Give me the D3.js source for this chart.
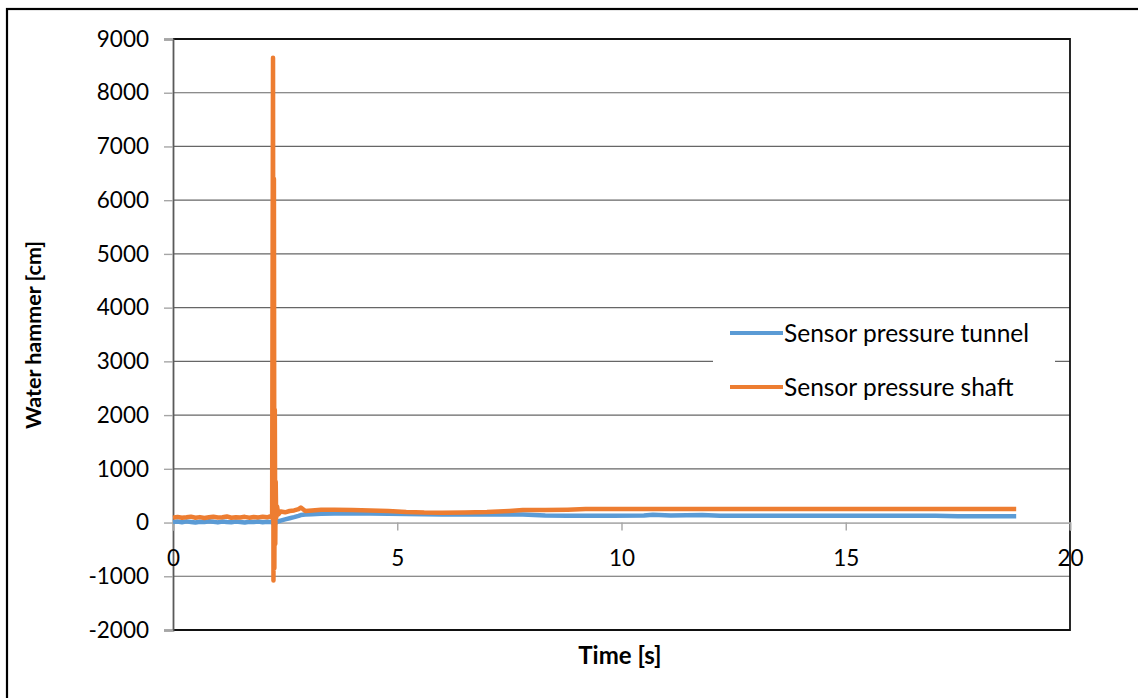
<!DOCTYPE html>
<html>
<head>
<meta charset="utf-8">
<script src="https://cdn.jsdelivr.net/npm/d3@7"></script>
<style>
  html, body { margin: 0; padding: 0; background: #fff; }
  svg { display: block; }
  text { font-family: Lato, "Open Sans", sans-serif; fill: #000; }
</style>
</head>
<body>
<svg id="chart" width="1138" height="698"></svg>
<script>
// Sample times (s)
const time = [
  0, 0.1, 0.2, 0.3, 0.4, 0.5, 0.6, 0.7, 0.8, 0.9,
  1.0, 1.1, 1.2, 1.3, 1.4, 1.5, 1.6, 1.7, 1.8, 1.9,
  2.0, 2.1, 2.18, 2.21, 2.23, 2.24, 2.25, 2.26, 2.27, 2.28,
  2.29, 2.30, 2.32, 2.35, 2.4, 2.5, 2.6, 2.7, 2.8, 2.85,
  2.95, 3.1, 3.3, 3.6, 4.0, 4.4, 4.8, 5.2, 5.6, 6.0,
  6.5, 7.0, 7.5, 7.8, 8.3, 8.8, 9.2, 9.8, 10.5, 10.7,
  11.1, 11.8, 12.2, 13.0, 14.0, 15.0, 16.0, 17.0, 17.5, 18.0,
  18.8
];

// Water hammer measured in the tunnel (cm)
const tunnelValues = [
  10, 18, 5, 22, 12, 0, 15, 8, 25, 14,
  3, 20, 10, 6, 18, 12, 2, 16, 9, 20,
  7, 14, 10, 5, 12, -15, 20, -10, 15, -5,
  8, 0, 10, 20, 35, 60, 80, 100, 125, 140,
  148, 155, 162, 168, 170, 168, 165, 160, 155, 150,
  150, 150, 150, 148, 132, 128, 128, 128, 130, 145,
  130, 142, 128, 128, 127, 128, 126, 125, 118, 115,
  115
];

// Water hammer measured in the shaft (cm)
const shaftValues = [
  92, 105, 88, 98, 110, 90, 101, 86, 97, 108,
  93, 100, 112, 89, 99, 94, 106, 91, 102, 96,
  109, 98, 120, 90, 8650, -1080, 6400, -850, 2100, -400,
  760, 80, 300, 150, 205, 190, 215, 225, 250, 280,
  215, 225, 238, 240, 235, 225, 215, 195, 185, 183,
  185, 195, 215, 232, 235, 240, 250, 252, 253, 254,
  253, 254, 253, 254, 253, 254, 253, 254, 253, 252,
  252
];

const seriesNames = ["Sensor pressure tunnel", "Sensor pressure shaft"];
const seriesColors = ["#5b9bd5", "#ed7d31"];
const xTicks = [0, 5, 10, 15, 20];
const yTicks = [-2000, -1000, 0, 1000, 2000, 3000, 4000, 5000, 6000, 7000, 8000, 9000];

const svg = d3.select("#chart");

// Outer chart frame (continues past the visible area on the right and bottom)
svg.append("rect")
  .attr("x", 7).attr("y", 9)
  .attr("width", 1400).attr("height", 900)
  .attr("fill", "none").attr("stroke", "#000").attr("stroke-width", 2.2);

const plot = { left: 173, right: 1070, top: 39, bottom: 630 };

const x = d3.scaleLinear().domain([0, 20]).range([plot.left, plot.right]);
const y = d3.scaleLinear().domain([-2000, 9000]).range([plot.bottom, plot.top]);

// Horizontal gridlines
svg.append("g")
  .selectAll("line")
  .data(yTicks.filter(d => d !== 0 && d !== -2000 && d !== 9000))
  .join("line")
  .attr("x1", plot.left).attr("x2", plot.right)
  .attr("y1", d => y(d)).attr("y2", d => y(d))
  .attr("stroke", "#666").attr("stroke-width", 1.2);

// Plot area border (top, right, bottom)
svg.append("path")
  .attr("d", `M${plot.left},${plot.top}H${plot.right}V${plot.bottom}H${plot.left}`)
  .attr("fill", "none").attr("stroke", "#111").attr("stroke-width", 1.8);

// Y axis
const yAxis = d3.axisLeft(y).tickValues(yTicks).tickSize(9).tickPadding(15).tickFormat(d => String(d));
const gy = svg.append("g").attr("transform", `translate(${plot.left},0)`).call(yAxis);
gy.select(".domain").attr("stroke", "#5a5a5a").attr("stroke-width", 1.8);
gy.selectAll(".tick line").attr("stroke", "#a6a6a6").attr("stroke-width", 1.4);
gy.selectAll(".tick text").attr("font-size", 22.5).attr("font-family", "Lato, sans-serif").attr("fill", "#000");

// X axis crossing at zero
const xAxis = d3.axisBottom(x).tickValues(xTicks).tickSize(8).tickPadding(19).tickFormat(d => String(d));
const gx = svg.append("g").attr("transform", `translate(0,${y(0)})`).call(xAxis);
gx.select(".domain").attr("stroke", "#b0b0b0").attr("stroke-width", 1.8);
gx.selectAll(".tick line").attr("stroke", "#a6a6a6").attr("stroke-width", 1.4);
gx.selectAll(".tick text").attr("font-size", 22.5).attr("font-family", "Lato, sans-serif").attr("fill", "#000");

// Data lines
const line = d3.line().x((d, i) => x(time[i])).y(d => y(d));
[tunnelValues, shaftValues].forEach((vals, k) => {
  svg.append("path")
    .datum(vals)
    .attr("d", line)
    .attr("fill", "none")
    .attr("stroke", seriesColors[k])
    .attr("stroke-width", 4.5)
    .attr("stroke-linejoin", "round")
    .attr("stroke-linecap", "butt");
});

// Legend
const legend = svg.append("g");
legend.append("rect")
  .attr("x", 713).attr("y", 316).attr("width", 342).attr("height", 94)
  .attr("fill", "#fff");
seriesNames.forEach((name, k) => {
  const ly = 333 + k * 54;
  legend.append("line")
    .attr("x1", 730).attr("x2", 783).attr("y1", ly).attr("y2", ly)
    .attr("stroke", seriesColors[k]).attr("stroke-width", 4);
  legend.append("text")
    .attr("x", 784).attr("y", ly + 8.5)
    .attr("font-size", 24.5)
    .text(name);
});

// Axis titles
svg.append("text")
  .attr("transform", `translate(41,335) rotate(-90)`)
  .attr("text-anchor", "middle")
  .attr("font-size", 21.5).attr("font-weight", "bold")
  .text("Water hammer [cm]");

svg.append("text")
  .attr("x", 620).attr("y", 664)
  .attr("text-anchor", "middle")
  .attr("font-size", 24).attr("font-weight", "bold")
  .text("Time [s]");
</script>
</body>
</html>
